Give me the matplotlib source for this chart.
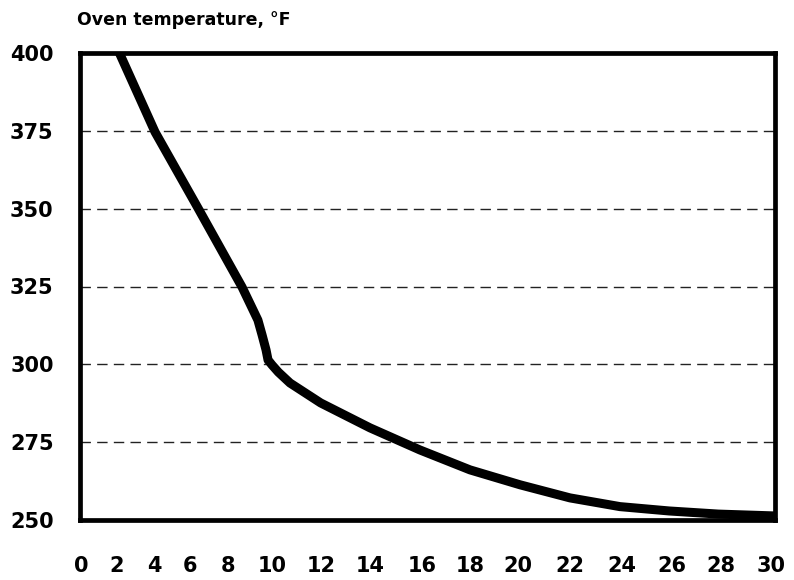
import numpy as np
import matplotlib
matplotlib.use("Agg")
import matplotlib.pyplot as plt
from matplotlib.ticker import FixedLocator

# ---- data ----
time_min = [2.07, 4.06, 6.42, 8.64, 9.36, 9.55, 9.73, 9.82, 10.0, 10.26, 10.74,
            12.0, 14.0, 15.93, 18.0, 20.07, 22.0, 23.92, 25.9, 27.9, 30.3]
oven_temp_f = [401, 374.6, 350.2, 324.8, 314.2, 309.4, 304.6, 301.4, 299.8, 297.5,
               294.0, 287.6, 279.6, 272.5, 266.1, 261.3, 257.1, 254.3, 252.9,
               251.9, 251.3]
x_ticks = list(range(0, 31, 2))
y_ticks = [250, 275, 300, 325, 350, 375, 400]
title = "Oven temperature, °F"

# ---- layout: the reference's x labels are unevenly spaced; reproduce that spacing ----
warp_vals = [-0.1] + x_ticks + [30.2]
warp_pos = [80, 81, 116.7, 154, 190, 228, 272, 320.7, 370, 421.7, 470, 518.3,
            570, 622, 671.7, 720.7, 771, 775]

def fwd(v):
    return np.interp(v, warp_vals, warp_pos)

def inv(p):
    return np.interp(p, warp_pos, warp_vals)

plt.rcParams['font.family'] = ['DejaVu Sans']
plt.rcParams['font.weight'] = 'bold'

W, H = 794, 580
fig = plt.figure(figsize=(W / 100, H / 100), dpi=100)
ax = fig.add_axes([80 / W, 1 - 520 / H, (775 - 80) / W, (520 - 53) / H])

ax.set_xscale('function', functions=(fwd, inv))
ax.set_xlim(-0.1, 30.2)
ax.set_ylim(250, 400)

for yv in y_ticks[1:-1]:
    ax.axhline(yv, color='#222222', lw=1.0, dashes=(7.5, 4.5), zorder=1)

ax.plot(time_min, oven_temp_f, color='black', lw=6.5, solid_joinstyle='round',
        solid_capstyle='butt', zorder=3)

ax.xaxis.set_major_locator(FixedLocator(x_ticks))
ax.xaxis.set_minor_locator(FixedLocator([]))
ax.set_xticklabels([str(t) for t in x_ticks])
ax.set_yticks(y_ticks)
ax.set_yticklabels([str(t) for t in y_ticks])
ax.tick_params(axis='both', length=0, labelsize=15)
ax.tick_params(axis='y', pad=19)
ax.tick_params(axis='x', pad=26)
for lab in ax.get_xticklabels() + ax.get_yticklabels():
    lab.set_fontweight('bold')

for s in ax.spines.values():
    s.set_linewidth(3.4)
    s.set_color('black')
    s.set_zorder(4)

fig.text(77 / W, 1 - 25 / H, title, fontsize=12.5, fontweight='bold',
         ha='left', va='baseline')

fig.savefig('out.png', dpi=100)
